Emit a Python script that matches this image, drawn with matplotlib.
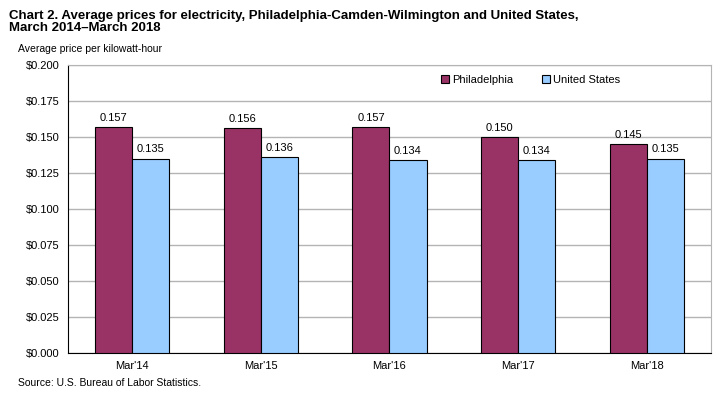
import matplotlib
matplotlib.use("Agg")
import matplotlib.pyplot as plt
import numpy as np

plt.rcParams['font.family'] = ['Liberation Sans', 'DejaVu Sans']

years = ["Mar'14", "Mar'15", "Mar'16", "Mar'17", "Mar'18"]
phila = [0.157, 0.156, 0.157, 0.150, 0.145]
us = [0.135, 0.136, 0.134, 0.134, 0.135]

fig = plt.figure(figsize=(7.17, 3.97), dpi=100)
ax = fig.add_axes([0.0948, 0.111, 0.8968, 0.7255])

x = np.arange(len(years))
w = 0.288
b1 = ax.bar(x - w/2, phila, w, color="#993366", edgecolor="black", linewidth=0.8, label="Philadelphia", zorder=3)
b2 = ax.bar(x + w/2, us, w, color="#99CCFF", edgecolor="black", linewidth=0.8, label="United States", zorder=3)

for xi, v in zip(x - w/2, phila):
    ax.text(xi, v + 0.003, f"{v:.3f}", ha="center", va="bottom", fontsize=8)
for xi, v in zip(x + w/2, us):
    ax.text(xi, v + 0.003, f"{v:.3f}", ha="center", va="bottom", fontsize=8)

ax.set_xlim(-0.5, 4.5)
ax.set_ylim(0, 0.2)
ax.set_yticks(np.arange(0, 0.2001, 0.025))
ax.set_yticklabels([f"${t:.3f}" for t in np.arange(0, 0.2001, 0.025)], fontsize=8)
ax.set_xticks(x)
ax.set_xticklabels(years, fontsize=8)
ax.tick_params(axis="both", length=0, pad=6)
ax.yaxis.grid(True, color="#b4b4b4", linewidth=1, zorder=0)
ax.set_axisbelow(True)
for s in ["top", "right"]:
    ax.spines[s].set_color("#b4b4b4")
for s in ["left", "bottom"]:
    ax.spines[s].set_color("black")

ax.legend(loc="upper right", bbox_to_anchor=(0.875, 1.0), ncol=2, frameon=False, fontsize=8,
          handlelength=0.7, handleheight=0.7, handletextpad=0.3, columnspacing=2.6)

fig.text(0.013, 0.975, "Chart 2. Average prices for electricity, Philadelphia-Camden-Wilmington and United States,\nMarch 2014\u2013March 2018",
         fontsize=9.5, fontweight="bold", va="top", ha="left", linespacing=1.0)
fig.text(0.025, 0.877, "Average price per kilowatt-hour", fontsize=7.5, va="center", ha="left")
fig.text(0.025, 0.035, "Source: U.S. Bureau of Labor Statistics.", fontsize=7.5, va="center", ha="left")

fig.savefig("out.png", dpi=100)
